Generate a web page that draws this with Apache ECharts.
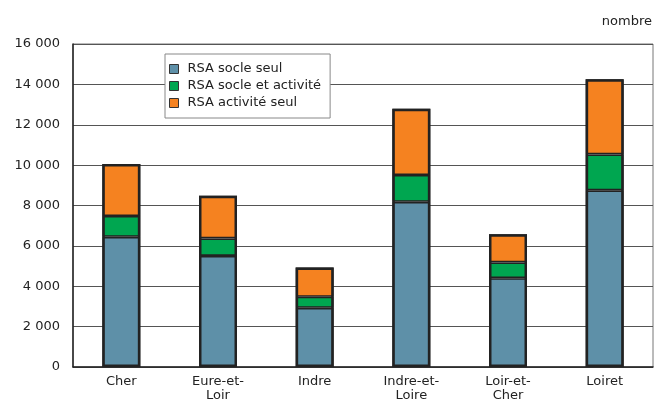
<!DOCTYPE html>
<html>
<head>
<meta charset="utf-8">
<script src="https://cdn.jsdelivr.net/npm/echarts@6/dist/echarts.min.js"></script>
<style>
  html, body { margin: 0; padding: 0; background: #fff; }
  #chart { width: 669px; height: 403px; }
</style>
</head>
<body>
<div id="chart"></div>
<script>
// Départements of the Centre region
const categories = ['Cher', 'Eure-et-Loir', 'Indre', 'Indre-et-Loire', 'Loir-et-Cher', 'Loiret'];

// Number of RSA recipients by type
const socleSeul = [6450, 5500, 2930, 8180, 4400, 8750];
const socleEtActivite = [1030, 870, 550, 1330, 780, 1780];
const activiteSeul = [2570, 2110, 1450, 3280, 1400, 3730];

const seriesNames = ['RSA socle seul', 'RSA socle et activité', 'RSA activité seul'];
const seriesColors = ['#5E90A8', '#00A650', '#F58220'];

const yTicks = { min: 0, max: 16000, interval: 2000 };

const FONT = 'DejaVu Sans';

function fmtThousands(v) {
  return String(v).replace(/\B(?=(\d{3})+(?!\d))/g, ' ');
}

const chart = echarts.init(document.getElementById('chart'), null, { renderer: 'canvas' });

const seriesData = [socleSeul, socleEtActivite, activiteSeul];
// Column totals, used to draw one outline around each stacked column
const totals = categories.map((_, k) => seriesData.reduce((s, arr) => s + arr[k], 0));

const BAR_W = 38;

const stacked = seriesNames.map((name, i) => ({
  name,
  type: 'bar',
  stack: 'rsa',
  barWidth: BAR_W,
  barGap: '-100%',
  data: seriesData[i],
  itemStyle: { color: seriesColors[i], borderColor: '#222', borderWidth: 1.6 }
}));

const outline = {
  name: 'total',
  type: 'bar',
  barWidth: BAR_W,
  barGap: '-100%',
  data: totals,
  silent: true,
  z: 3,
  itemStyle: { color: 'rgba(0,0,0,0)', borderColor: '#222', borderWidth: 2.5 }
};

chart.setOption({
  animation: false,
  backgroundColor: '#fff',
  textStyle: { fontFamily: FONT },
  title: {
    text: 'nombre',
    right: 12,
    top: 10,
    textStyle: { fontFamily: FONT, fontSize: 13, fontWeight: 'normal', color: '#222' }
  },
  legend: {
    orient: 'vertical',
    left: 165,
    top: 54,
    data: seriesNames,
    backgroundColor: '#fff',
    borderColor: '#888',
    borderWidth: 1,
    padding: [8, 9, 8, 4],
    itemWidth: 9,
    itemHeight: 9,
    itemGap: 3,
    icon: 'rect',
    itemStyle: { borderColor: '#333', borderWidth: 1 },
    textStyle: { fontFamily: FONT, fontSize: 13, color: '#222', lineHeight: 14, padding: [0, 0, 0, 4] }
  },
  grid: {
    left: 73,
    right: 16,
    top: 44,
    bottom: 35,
    show: true,
    borderColor: '#777',
    borderWidth: 1
  },
  xAxis: {
    type: 'category',
    data: categories,
    axisLine: { lineStyle: { color: '#222', width: 1.5 } },
    axisTick: { inside: true, length: 6, lineStyle: { color: '#222', width: 1 } },
    axisLabel: {
      fontFamily: FONT,
      fontSize: 13,
      color: '#222',
      margin: 8,
      lineHeight: 14,
      interval: 0,
      formatter: v => v.replace('-et-', '-et-\n')
    }
  },
  yAxis: {
    type: 'value',
    min: yTicks.min,
    max: yTicks.max,
    interval: yTicks.interval,
    axisLine: { show: true, lineStyle: { color: '#222', width: 1.5 } },
    axisTick: { show: false },
    splitLine: { lineStyle: { color: '#555', width: 1 } },
    axisLabel: {
      fontFamily: FONT,
      fontSize: 13,
      color: '#222',
      margin: 13,
      formatter: v => fmtThousands(v)
    }
  },
  series: stacked.concat([outline])
});
</script>
</body>
</html>
